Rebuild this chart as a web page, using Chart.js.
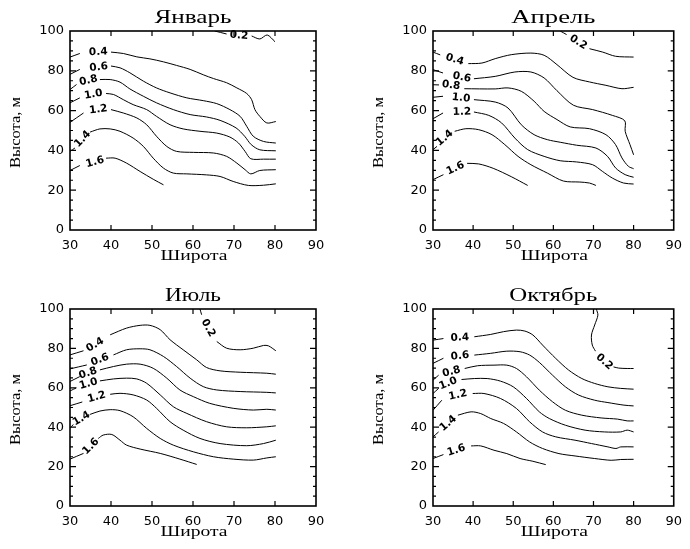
<!DOCTYPE html>
<html lang="ru">
<head>
<meta charset="UTF-8">
<title>Высота — широта</title>
<script src="https://cdn.jsdelivr.net/npm/chart.js"></script>
<style>
  body { margin: 0; background: #fff; width: 690px; height: 549px; position: relative; overflow: hidden; }
  canvas { position: absolute; }
</style>
</head>
<body>
<canvas id="jan" width="345" height="275" style="left:0;top:0"></canvas>
<canvas id="apr" width="345" height="275" style="left:345px;top:0"></canvas>
<canvas id="jul" width="345" height="274" style="left:0;top:275px"></canvas>
<canvas id="oct" width="345" height="274" style="left:345px;top:275px"></canvas>
<script>
// contour levels (same for every month)
const levels = ['0.2', '0.4', '0.6', '0.8', '1.0', '1.2', '1.4', '1.6'];
const xTicks = [30, 40, 50, 60, 70, 80, 90];
const yTicks = [0, 20, 40, 60, 80, 100];

// contour lines: [latitude, height]; null = gap for the label
const janLines = [
  [[65.3,100],[68.2,98.5],null,[74.3,97.5],[76.3,96],[78.1,98],[80,94.6]],
  [[30,86.9],[32.4,88.7],null,[40,89.4],[43,88.7],[46.3,87],[49.5,86],[52.8,84.5],[56,82.7],[59.3,80.7],[62.5,78],[65,76.1],[68.2,74],[70.7,71.4],[73.1,68.6],[74.3,65.5],[75.1,60.5],[76.3,57.1],[78,53.8],[80.2,54.5]],
  [[30,78.2],[32.4,80.7],null,[40,82.4],[42.2,81.5],[44.6,79],[47.9,74.8],[51.1,71.4],[54.4,68.9],[58.5,66.4],[62.5,65],[65.8,63.5],[69,60.5],[71.5,57.1],[73.1,52.1],[74.7,47.1],[77.2,44.5],[80.2,43.7]],
  [[30,70.6],[31.6,73.1],null,[37.3,75.6],[39.8,75.6],[42.2,74.3],[44.6,70.9],[47.9,67.2],[51.1,63.9],[55.2,60.5],[59.3,58],[63.3,56.8],[66.6,55.1],[70.5,51.3],[72.6,47.1],[74.2,42.9],[76.3,40.3],[80.2,39.8]],
  [[30,63.9],[32.4,66.4],null,[38.8,68.6],[40.6,68.1],[43,65.5],[45.4,63],[48.7,60.5],[51.1,57.1],[54.4,52.9],[57.6,50.8],[61.7,49.6],[65.8,48.7],[69,46.7],[71.1,43.7],[72.7,39.5],[74.1,35.8],[77.2,35.6],[80.2,35.6]],
  [[30,54.1],[33.3,58.8],null,[40,60.5],[43,58.8],[46.3,56.3],[48.7,52.9],[51.1,47.1],[53.6,42],[56,39.5],[60.1,39],[65,38.7],[68.2,37],[70.7,33.6],[72.7,30.3],[74.1,28.2],[76.3,29.9],[80.2,30.3]],
  [[30,39.5],[31.2,41.2],null,[34.9,49.2],[37.3,50.8],[39.8,50.8],[42.2,49.6],[45.4,46.2],[47.9,42],[50.3,36.1],[52.8,31.1],[55.2,28.6],[58.5,28.2],[63.3,27.7],[66.6,26.9],[69.8,24.4],[73.5,22.4],[77.2,22.5],[80.2,23.2]],
  [[30,29.9],[32.4,32.4],null,[38.8,36.1],[41,36.1],[43.8,33.6],[47.1,29.4],[50.3,25.5],[52.8,22.7]]
];
const janLabels = [[71.2,97.7],[36.9,89.4],[37,81.8],[34.5,75.1],[35.7,68.1],[36.9,60.5],[33.1,45.7],[36.1,34.1]];

const aprLines = [
  [[61.7,100],[63.3,98.2],null,[69,91.1],[72.3,89.4],[75.5,87.3],[80,86.9]],
  [[30,89.4],[31.8,88],null,[38.8,83.6],[42.2,83.9],[45.5,86.1],[49.5,88.1],[54.4,88.9],[57.7,87.8],[60.9,83.1],[64.9,76.7],[69,74.4],[73.1,72.7],[77.1,71],[80,71.7]],
  [[30,80.6],[32.5,78.9],null,[40.2,76],[45.5,77.2],[50.4,79.4],[54.4,79.4],[57.7,76.4],[60.9,70],[65,62.7],[69.8,60.5],[74.7,57.6],[77.8,54.9],[77.9,49.6],[79.1,42.9],[80,37.8]],
  [[30,73],[31.5,72.9],null,[37.8,71],[45.5,70.9],[48.7,71.4],[52,69.7],[55.2,64.7],[57.7,59.6],[60.9,55.5],[64.2,51.8],[69,50.9],[73.1,47.9],[75.5,42.9],[77.1,36.2],[78.7,32],[80,30.8]],
  [[30,66.7],[32.5,67.2],null,[40.2,65.5],[45.5,64.3],[48.7,61.3],[52,52.9],[55.2,47.9],[58.5,45.4],[61.7,44.1],[65.8,42.6],[70.6,41.2],[73.5,37],[75.5,31.2],[77.9,27.8],[80,26.5]],
  [[30,55.9],[32.5,58.8],null,[40.2,59.3],[43.9,57.6],[47.1,53.8],[50.4,46.2],[53.6,40.4],[57.7,37],[61.7,34.8],[65.8,34.2],[69.8,32.8],[72.2,29.5],[74.7,26.1],[77.5,23.6],[80,23.1]],
  [[30,40.4],[31,42],null,[35.4,49.6],[38.2,50.9],[41.4,50.4],[44.7,47.9],[47.9,42.9],[51.2,37],[54.4,32.8],[58.5,28.6],[62.5,24.6],[66.6,24.1],[69,23.6],[70.6,22.4]],
  [[30,25.3],[32.6,27.8],null,[38.5,33.5],[41.4,33.2],[45,31],[49.5,26.8],[53.6,22.4]]
];
const aprLabels = [[66.2,94.3],[35.4,85.6],[37.2,76.7],[34.5,72.7],[37,66.3],[37.2,59.3],[32.9,46.2],[35.6,31]];

const julLines = [
  [[61.7,100],[62.1,97.1],null,[65.8,83.5],[68.2,80.1],[71.5,79.3],[74.7,80.1],[77.2,81.5],[78.4,81.3],[80.2,78.8]],
  [[30,76.7],[33.3,78.8],null,[39.8,86.9],[43.8,90.3],[47.1,91.7],[49.5,91.7],[52,89.5],[54.4,84.4],[57.6,79.3],[60.9,74.2],[63.3,70.3],[66.6,68.6],[71.5,67.9],[78,67.4],[80.2,66.9]],
  [[30,69.6],[34.1,71.6],null,[40.6,76.7],[43.8,79.3],[47.1,79.8],[49.5,79.3],[52.8,75.9],[56,70.8],[59.3,64.9],[62.5,60.6],[65.8,58.9],[71.5,58.1],[78,57.7],[80.2,57.4]],
  [[30,63.2],[32.4,65.7],null,[37.3,69.1],[40.6,70.8],[43.8,72],[47.1,72],[50.3,69.9],[53.6,64.9],[56.8,58.9],[60.1,55.5],[64.1,52.1],[69.8,49.6],[74.7,48.7],[78,49.1],[80.2,48.7]],
  [[30,58.4],[31.6,60],null,[37.3,63.5],[40.6,64.5],[43.8,64.9],[46.3,64.5],[48.7,62.3],[52,56.4],[55.2,50.4],[58.5,47],[63.3,42.8],[68.2,40.2],[73.1,39.7],[78,40.2],[80.2,40.7]],
  [[30,50.9],[33,52.8],null,[39.8,56.7],[42.2,57.2],[45.4,56.4],[48.7,53.8],[51.1,49.6],[54.4,42.8],[57.6,38.5],[61.7,34.3],[66.6,31.7],[73.1,30.6],[77.2,31.7],[80.2,33.4]],
  [[30,39.4],[30.8,41.4],null,[34.9,46.5],[37.3,48.2],[39.8,48.9],[42.2,48.4],[45.4,45.3],[48.7,39.4],[52,34.3],[55.2,30.9],[60.1,27.5],[65,25],[69.8,23.8],[74.7,23.3],[78,24.4],[80.2,25]],
  [[30,23.8],[33.3,26.7],null,[36.9,34.3],[38.1,36],[40.2,36.3],[42.2,33.4],[43.8,30.9],[47.1,28.9],[52,26.7],[56.8,23.8],[60.9,21.1]]
];
const julLabels = [[63.7,90.3],[36.1,81.8],[37.3,74.2],[34.4,67.4],[34.5,62],[36.5,55.3],[32.8,44.3],[35.1,30.2]];

const octLines = [
  [[70.7,100],[71.1,96.9],[70.3,91.9],[69.5,86.8],[69.7,81.7],[70.5,78.6],null,[75,70.6],[76.3,70],[78.4,69.8],[80,69.8]],
  [[30,84.2],[32.6,85],null,[40.3,85.9],[44.4,87.1],[47.6,88.5],[50.8,89.3],[52.9,88.8],[54.9,86.8],[57.3,81.7],[60.6,74.9],[63.8,69],[67.1,64.7],[70.3,62.2],[73.6,60.5],[76.8,59.7],[80,59.3]],
  [[30,72.4],[32.6,75],null,[40.3,76.6],[44.4,77.5],[48.4,78.6],[51.7,78.3],[54.1,76.6],[56.5,72.9],[59.8,66.4],[63,60.5],[66.3,56.3],[70.3,53.7],[73.6,52.5],[77.6,51.2],[80,50.8]],
  [[30,63.9],[31.4,66.4],null,[37.9,69.8],[41.1,71.2],[45.2,71.5],[48.4,71.5],[50.8,69.8],[53.3,65.6],[56.5,58.8],[59.8,52.9],[63,48.6],[67.1,46.1],[71.9,44.7],[76,44.1],[78.4,43.2],[80,43.2]],
  [[30,57.1],[31.4,59.7],null,[37.1,64.2],[40.3,64.7],[43.5,64.7],[46.8,63.4],[50,60.5],[53.3,54.6],[56.5,47.8],[59,44.4],[63,41],[67.9,38.5],[72.7,37.6],[76.8,37.6],[78.4,38.5],[80,37.6]],
  [[30,48.6],[32.2,53.7],null,[39.9,57.1],[42.7,57.1],[46.8,54.6],[50.8,49.5],[54.1,42.7],[57.3,37.6],[60.6,35.1],[65.4,33.4],[69.5,31.7],[73.6,30],[75.6,29.2],[76.8,30],[80,30]],
  [[30,35.1],[31.4,37.6],null,[36.2,46.1],[39.5,47.8],[41.9,46.9],[44.4,44.4],[47.6,41.9],[50.8,37.6],[54.1,32.5],[57.3,29.2],[61.4,26.6],[65.4,25.4],[70.3,24.1],[74.4,23.2],[76.8,23.6],[80,23.7]],
  [[30,24.1],[32.6,26.1],null,[39.5,30.5],[41.9,30.5],[45.2,28.3],[48.4,26.6],[51.7,24.1],[54.9,22.7],[58.1,21]]
];
const octLabels = [[72.7,73.2],[36.7,85.4],[36.7,76.1],[34.6,68.1],[33.8,62.2],[36.2,56.3],[33.8,41.9],[35.8,28.3]];

// draw text stretched to a given width (the original vector font is wide)
function wideText(ctx, text, x, y, width, rot) {
  ctx.save();
  ctx.translate(x, y);
  ctx.rotate(rot || 0);
  const w = ctx.measureText(text).width;
  ctx.scale(width / w, 1);
  ctx.fillText(text, 0, 0);
  ctx.restore();
}

// box, inward ticks, contour labels and titles
const framePlugin = {
  id: 'frame',
  afterDatasetsDraw(chart) {
    const { ctx, chartArea: a, scales: { x, y } } = chart;
    const opts = chart.options.plugins.frame;
    ctx.save();
    ctx.strokeStyle = '#000';
    ctx.lineWidth = 1.6;
    ctx.strokeRect(a.left, a.top, a.right - a.left, a.bottom - a.top);
    ctx.lineWidth = 1.2;
    ctx.beginPath();
    for (let v = x.min + 10; v < x.max; v += 10) {
      const px = x.getPixelForValue(v);
      ctx.moveTo(px, a.bottom); ctx.lineTo(px, a.bottom - 5);
      ctx.moveTo(px, a.top); ctx.lineTo(px, a.top + 5);
    }
    for (let v = y.min + 5; v < y.max; v += 5) {
      const py = y.getPixelForValue(v);
      const len = v % 20 === 0 ? 6 : 3;
      ctx.moveTo(a.left, py); ctx.lineTo(a.left + len, py);
      ctx.moveTo(a.right, py); ctx.lineTo(a.right - len, py);
    }
    ctx.stroke();

    // contour labels, rotated along the gap in each line
    ctx.fillStyle = '#000';
    ctx.font = 'bold 10.5px "DejaVu Sans"';
    ctx.textAlign = 'center';
    ctx.textBaseline = 'middle';
    opts.lines.forEach((line, i) => {
      const k = line.indexOf(null);
      const p0 = line[k - 1], p1 = line[k + 1];
      let ang = Math.atan2(y.getPixelForValue(p1[1]) - y.getPixelForValue(p0[1]),
                           x.getPixelForValue(p1[0]) - x.getPixelForValue(p0[0]));
      if (ang > Math.PI / 2) ang -= Math.PI;
      if (ang < -Math.PI / 2) ang += Math.PI;
      const [lx, ly] = opts.labels[i];
      ctx.save();
      ctx.translate(x.getPixelForValue(lx), y.getPixelForValue(ly));
      ctx.rotate(ang);
      ctx.fillText(levels[i], 0, 0);
      ctx.restore();
    });

    // titles
    ctx.textBaseline = 'alphabetic';
    const cx = (a.left + a.right) / 2;
    ctx.font = '18px "Liberation Serif"';
    wideText(ctx, opts.title, cx, a.top - 8.5, opts.titleWidth);
    ctx.font = '15px "Liberation Serif"';
    wideText(ctx, 'Широта', cx + 1, a.bottom + 30, 67);
    wideText(ctx, 'Высота, м', a.left - 50, (a.top + a.bottom) / 2 + 2, 71, -Math.PI / 2);
    ctx.restore();
  }
};

function makeChart(id, title, titleWidth, lines, labels, box) {
  const datasets = [];
  lines.forEach(line => {
    let seg = [];
    line.forEach(p => {
      if (p === null) { datasets.push(seg); seg = []; }
      else seg.push({ x: p[0], y: p[1] });
    });
    datasets.push(seg);
  });
  return new Chart(document.getElementById(id), {
    type: 'scatter',
    data: {
      datasets: datasets.map(d => ({
        data: d,
        showLine: true,
        borderColor: '#000',
        borderWidth: 1,
        pointRadius: 0,
        tension: 0.3
      }))
    },
    options: {
      responsive: false,
      animation: false,
      devicePixelRatio: 1,
      layout: { padding: { left: 0, top: box.top, right: box.right, bottom: 0 } },
      plugins: {
        legend: { display: false },
        tooltip: { enabled: false },
        frame: { title, titleWidth, lines, labels }
      },
      scales: {
        x: {
          type: 'linear', min: 30, max: 90,
          afterBuildTicks: s => { s.ticks = xTicks.map(v => ({ value: v })); },
          afterFit: s => { s.height = box.xh; },
          grid: { display: false, drawTicks: false },
          border: { display: false },
          ticks: { color: '#000', padding: 8, maxRotation: 0, font: { family: 'DejaVu Sans', size: 13 } }
        },
        y: {
          type: 'linear', min: 0, max: 100,
          afterBuildTicks: s => { s.ticks = yTicks.map(v => ({ value: v })); },
          afterFit: s => { s.width = box.yw; },
          grid: { display: false, drawTicks: false },
          border: { display: false },
          ticks: { color: '#000', padding: 6, font: { family: 'DejaVu Sans', size: 13 } }
        }
      }
    },
    plugins: [framePlugin]
  });
}

makeChart('jan', 'Январь', 77, janLines, janLabels, { top: 31, right: 29, xh: 45, yw: 70 });
makeChart('apr', 'Апрель', 84, aprLines, aprLabels, { top: 31, right: 11, xh: 45, yw: 88 });
makeChart('jul', 'Июль', 56, julLines, julLabels, { top: 34, right: 29, xh: 43, yw: 70 });
makeChart('oct', 'Октябрь', 88, octLines, octLabels, { top: 34, right: 11, xh: 43, yw: 88 });
</script>
</body>
</html>
